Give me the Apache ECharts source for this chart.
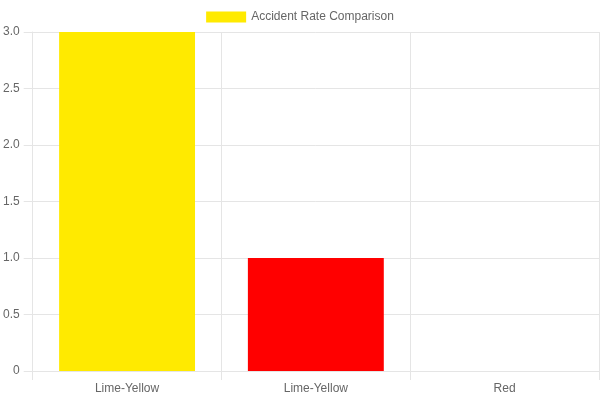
<!DOCTYPE html>
<html>
<head>
<meta charset="utf-8">
<script src="https://cdn.jsdelivr.net/npm/echarts@6/dist/echarts.min.js"></script>
<style>
  html, body { margin: 0; padding: 0; background: #fff; }
  #chart { width: 600px; height: 400px; }
</style>
</head>
<body>
<div id="chart"></div>
<script>
const categories = ['Lime-Yellow', 'Lime-Yellow', 'Red'];
const accidentRates = [3, 1, 0];
const barColors = ['#ffea00', '#ff0000', '#ff0000'];
const seriesName = 'Accident Rate Comparison';

let myChart = echarts.init(document.getElementById('chart'));
let option;

const gridColor = '#e5e5e5';
const textColor = '#666';
const font = 'Liberation Sans, Arial, sans-serif';

option = {
    animation: false,
    textStyle: { fontFamily: font },
    legend: {
        top: 6,
        left: 'center',
        icon: 'rect',
        itemWidth: 40,
        itemHeight: 11,
        itemGap: 10,
        textStyle: { color: textColor, fontSize: 12, fontFamily: font },
        data: [{ name: seriesName, itemStyle: { color: barColors[0] } }]
    },
    grid: {
        left: 30,
        right: 1,
        top: 32,
        bottom: 29,
        containLabel: false
    },
    xAxis: {
        type: 'category',
        data: categories,
        boundaryGap: true,
        axisLine: { show: true, lineStyle: { color: gridColor } },
        axisTick: { show: true, length: 9, alignWithLabel: false, lineStyle: { color: gridColor } },
        axisLabel: { color: textColor, fontSize: 12, margin: 12, fontFamily: font },
        splitLine: { show: true, lineStyle: { color: gridColor } }
    },
    yAxis: {
        type: 'value',
        min: 0,
        max: 3,
        interval: 0.5,
        axisLine: { show: true, lineStyle: { color: gridColor } },
        axisTick: { show: true, length: 9, lineStyle: { color: gridColor } },
        axisLabel: {
            color: textColor,
            fontSize: 12,
            margin: 13,
            fontFamily: font,
            formatter: function (v) { return v === 0 ? '0' : v.toFixed(1); }
        },
        splitLine: { show: true, lineStyle: { color: gridColor } }
    },
    series: [
        {
            name: seriesName,
            type: 'bar',
            barCategoryGap: '28%',
            itemStyle: { color: barColors[0] },
            data: accidentRates.map(function (v, i) {
                return { value: v, itemStyle: { color: barColors[i] } };
            })
        }
    ]
};

option && myChart.setOption(option);
</script>
</body>
</html>
